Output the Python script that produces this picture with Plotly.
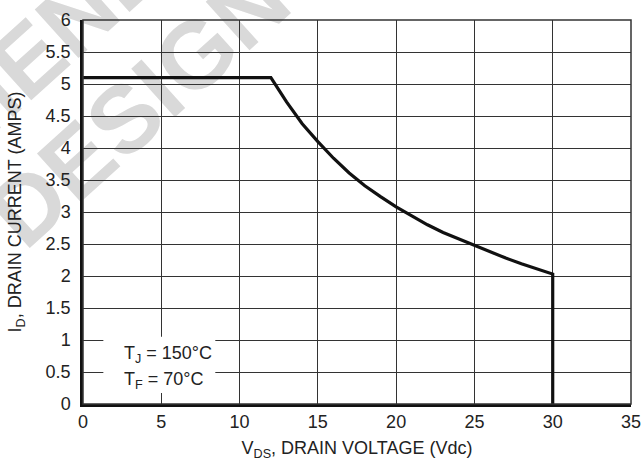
import plotly.graph_objects as go

# Data (drain current vs drain voltage, safe operating area)
vds = [0, 12, 13, 14, 15, 16, 17, 18, 19, 20, 21, 22, 23, 24, 25, 26, 27, 28, 29, 30, 30]
id_amps = [5.1, 5.1, 4.72, 4.38, 4.1, 3.84, 3.61, 3.41, 3.24, 3.08, 2.94, 2.80, 2.68,
           2.58, 2.48, 2.37, 2.28, 2.19, 2.11, 2.03, 0]
x_ticks = [0, 5, 10, 15, 20, 25, 30, 35]
y_ticks = [0, 0.5, 1, 1.5, 2, 2.5, 3, 3.5, 4, 4.5, 5, 5.5, 6]
x_range = [0, 35]
y_range = [0, 6]
cond_lines = ["T<sub>J</sub> = 150°C", "T<sub>F</sub> = 70°C"]
watermark = ["NOT RECOMMENDED", "FOR NEW DESIGN"]

FONT = "Liberation Sans, Arial, sans-serif"
GRID = "#333333"
TXT = "#222222"

fig = go.Figure()
fig.add_trace(go.Scatter(x=vds, y=id_amps, mode="lines",
                         line=dict(color="#111111", width=3.2),
                         hoverinfo="skip", showlegend=False))

# Watermark (behind grid)
wm_centers = [(-0.376, 0.576), (-0.232, 0.380)]
for txt, (cx, cy) in zip(watermark, wm_centers):
    fig.add_shape(type="rect", xref="paper", yref="paper",
                  x0=cx - 0.005, x1=cx + 0.005, y0=cy - 0.005, y1=cy + 0.005,
                  line=dict(width=0), fillcolor="rgba(0,0,0,0)", layer="below",
                  label=dict(text=txt, textangle=-42, textposition="middle center",
                             font=dict(family="Liberation Sans, Arial, sans-serif",
                                       size=95, color="#d9d9d9", weight="bold")))

# White box behind conditions text
fig.add_shape(type="rect", xref="x", yref="y", x0=1.30, x1=8.45, y0=0.17, y1=1.05,
              line=dict(width=0), fillcolor="white", layer="above")
fig.add_annotation(x=2.49, y=0.766, xref="x", yref="y", text=cond_lines[0],
                   showarrow=False, xanchor="left", yanchor="middle",
                   font=dict(family=FONT, size=18, color=TXT))
fig.add_annotation(x=2.49, y=0.36, xref="x", yref="y", text=cond_lines[1],
                   showarrow=False, xanchor="left", yanchor="middle",
                   font=dict(family=FONT, size=18, color=TXT))

# Frame (top/right thin)
fig.add_shape(type="rect", xref="paper", yref="paper", x0=0, x1=1, y0=0, y1=1,
              line=dict(color=GRID, width=1.5), layer="above")

fig.update_xaxes(range=x_range, tickvals=x_ticks, ticktext=[str(v) for v in x_ticks],
                 showgrid=True, gridcolor=GRID, gridwidth=1.2,
                 showline=True, linecolor="#111111", linewidth=2.5,
                 zeroline=False, ticks="", automargin=False,
                 tickfont=dict(family=FONT, size=18, color=TXT),
                 title=dict(text="V<sub>DS</sub>, DRAIN VOLTAGE (Vdc)", standoff=12,
                            font=dict(family=FONT, size=18, color=TXT)))
fig.update_yaxes(range=y_range, tickvals=y_ticks,
                 ticktext=[("%g" % v) for v in y_ticks],
                 showgrid=True, gridcolor=GRID, gridwidth=1.2,
                 showline=True, linecolor="#111111", linewidth=2.5,
                 zeroline=False, ticks="", ticklabelstandoff=6, automargin=False,
                 tickfont=dict(family=FONT, size=18, color=TXT),
                 title=dict(text="I<sub>D</sub>, DRAIN CURRENT (AMPS)", standoff=20,
                            font=dict(family=FONT, size=18, color=TXT)))

fig.update_layout(width=642, height=461, margin=dict(l=83, r=11, t=20, b=57),
                  paper_bgcolor="white", plot_bgcolor="rgba(0,0,0,0)",
                  showlegend=False)

fig.write_html("out.html", config={"displayModeBar": False},
               post_script="document.body.style.margin='0';"
                           "document.body.style.overflow='hidden';")
